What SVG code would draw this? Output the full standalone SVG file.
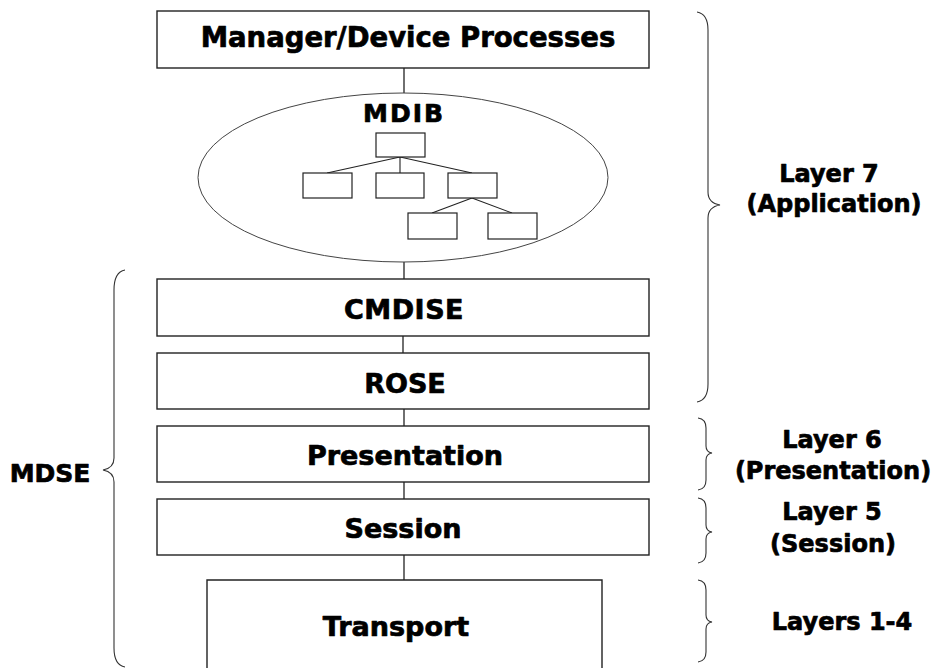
<svg xmlns="http://www.w3.org/2000/svg" width="938" height="668" viewBox="0 0 938 668">
  <style>
    .box { fill: #fff; stroke: #222; stroke-width: 1.4; }
    .mini { fill: #fff; stroke: #222; stroke-width: 1.2; }
    .line { fill: none; stroke: #222; stroke-width: 1.3; }
    .brace { fill: none; stroke: #333; stroke-width: 1.1; }
    .oval { fill: #fff; stroke: #444; stroke-width: 1; }
    .t { font-family: "DejaVu Sans", Verdana, sans-serif; font-weight: bold; fill: #000; stroke: #000; stroke-width: 0.7; stroke-linejoin: round; text-anchor: middle; }
    .main { font-size: 27px; }
    .side { font-size: 24px; }
  </style>

  <!-- vertical links between the stack elements -->
  <g id="connectors">
    <line class="line" x1="404" y1="68" x2="404" y2="93"/>
    <line class="line" x1="404" y1="262" x2="404" y2="279"/>
    <line class="line" x1="403" y1="336" x2="403" y2="353"/>
    <line class="line" x1="404" y1="409" x2="404" y2="426"/>
    <line class="line" x1="404" y1="482" x2="404" y2="499"/>
    <line class="line" x1="404" y1="555" x2="404" y2="580"/>
  </g>

  <g id="processes">
    <rect class="box" x="157" y="11" width="492" height="57"/>
    <text class="t main" x="408" y="47" style="font-size:27.5px">Manager/Device Processes</text>
  </g>

  <g id="mdib">
    <ellipse class="oval" cx="403" cy="177.5" rx="205" ry="84.5"/>
    <text class="t" x="404" y="122" style="font-size:25px;letter-spacing:2px">MDIB</text>
    <!-- containment tree -->
    <path class="line" d="M400,157 L327,173 M400,157 L400,173 M400,157 L472,173 M472,198 L432,213 M472,198 L512,213" style="stroke-width:1.1"/>
    <rect class="mini" x="376" y="133" width="49" height="24"/>
    <rect class="mini" x="303" y="173" width="49" height="25"/>
    <rect class="mini" x="376" y="173" width="48" height="25"/>
    <rect class="mini" x="448" y="173" width="49" height="25"/>
    <rect class="mini" x="408" y="213" width="49" height="26"/>
    <rect class="mini" x="488" y="213" width="49" height="26"/>
  </g>

  <g id="cmdise">
    <rect class="box" x="157" y="279" width="492" height="57"/>
    <text class="t main" x="404" y="319" style="letter-spacing:0.5px">CMDISE</text>
  </g>

  <g id="rose">
    <rect class="box" x="157" y="353" width="492" height="56"/>
    <text class="t main" x="405" y="393">ROSE</text>
  </g>

  <g id="presentation">
    <rect class="box" x="157" y="426" width="492" height="56"/>
    <text class="t main" x="405" y="465">Presentation</text>
  </g>

  <g id="session">
    <rect class="box" x="157" y="499" width="492" height="56"/>
    <text class="t main" x="403" y="538">Session</text>
  </g>

  <g id="transport">
    <path class="box" d="M207,672 V580 H602 V672"/>
    <text class="t main" x="396" y="636">Transport</text>
  </g>

  <!-- layer braces and their captions -->
  <g id="mdse">
    <path class="brace" d="M125,270 Q114,272 114,290 L114,458 Q114,468 103,470 Q114,472 114,482 L114,648 Q114,665 125,667"/>
    <text class="t" x="50" y="482" style="font-size:25px">MDSE</text>
  </g>

  <g id="layer7">
    <path class="brace" d="M697,12 Q708,14 708,30 L708,192 Q708,203 720,205 Q708,207 708,218 L708,384 Q708,400 697,402"/>
    <text class="t side" x="829" y="182">Layer 7</text>
    <text class="t side" x="834" y="212">(Application)</text>
  </g>

  <g id="layer6">
    <path class="brace" d="M698,418 Q706,419 706,428 L706,446 Q706,452 712,453 Q706,454 706,460 L706,480 Q706,489 698,490"/>
    <text class="t side" x="832" y="448">Layer 6</text>
    <text class="t side" x="833" y="479">(Presentation)</text>
  </g>

  <g id="layer5">
    <path class="brace" d="M698,498 Q706,499 706,508 L706,525 Q706,531 712,532 Q706,533 706,539 L706,553 Q706,562 698,563"/>
    <text class="t side" x="832" y="520">Layer 5</text>
    <text class="t side" x="833" y="552">(Session)</text>
  </g>

  <g id="layers1-4">
    <path class="brace" d="M698,580 Q706,581 706,590 L706,615 Q706,621 712,622 Q706,623 706,629 L706,652 Q706,661 698,662"/>
    <text class="t side" x="842" y="630">Layers 1-4</text>
  </g>
</svg>
